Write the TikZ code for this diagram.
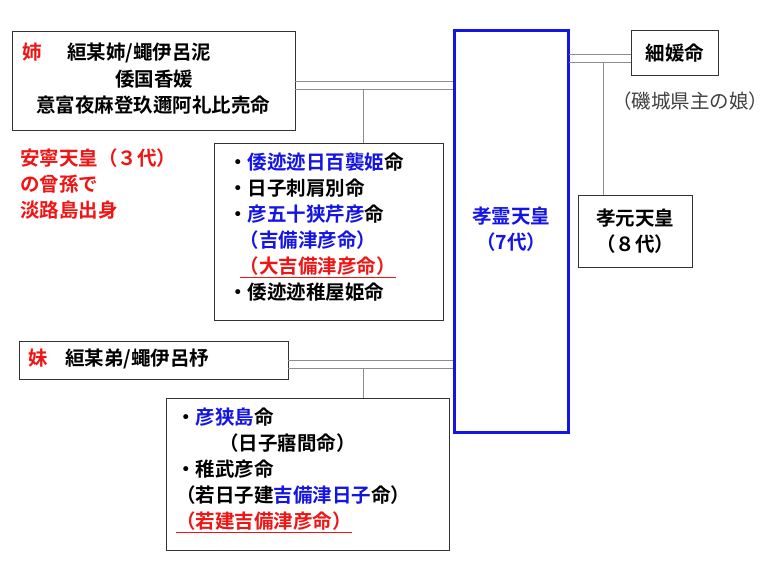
\documentclass[tikz,border=0pt]{standalone}
\usepackage{fontspec}
\setmainfont{Noto Sans CJK JP Bold}
\newfontfamily\jpreg{Noto Sans CJK JP}
\usetikzlibrary{positioning}
\definecolor{jblue}{RGB}{20,20,230}
\definecolor{jred}{RGB}{240,20,20}
\newcommand{\bl}[1]{\textcolor{jblue}{#1}}
\newcommand{\rd}[1]{\textcolor{jred}{#1}}
\tikzset{
  box/.style = {draw=black!80, line width=0.9pt, inner sep=0pt},
  txt/.style = {font=\fontsize{19.5}{26}\selectfont, align=left, inner sep=0pt},
  wire/.style = {draw=black!45, line width=0.8pt},
}
\begin{document}
\begin{tikzpicture}[x=1pt,y=-1pt]
  \useasboundingbox (0,0) rectangle (781,572);
  % boxes
  \draw[box] (12,31) rectangle (295,130);
  \draw[box] (214,143) rectangle (443,320);
  \draw[box] (19,341) rectangle (288,379);
  \draw[box] (166,398) rectangle (449,550);
  \draw[box] (631,30) rectangle (718,75);
  \draw[box] (578,195) rectangle (692,267);
  \draw[draw=jblue, line width=3pt] (454,31) rectangle (568,432);
  % named anchors
  \coordinate (ane) at (295,85);
  \coordinate (imo) at (288,364);
  \coordinate (hoso) at (631,58);
  \coordinate (kL) at (453,0);
  \coordinate (kR) at (569,0);
  % marriages
  \foreach \d in {-4,4} {
    \draw[wire] (ane |- 0,85+\d) -- (kL |- 0,85+\d);
    \draw[wire] (imo |- 0,364+\d) -- (kL |- 0,364+\d);
    \draw[wire] (kR |- 0,58+\d) -- (hoso |- 0,58+\d);
  }
  \draw[wire] (363,89) -- (363,143);
  \draw[wire] (363,368) -- (363,398);
  \draw[wire] (603,62) -- (603,195);
  % texts
  \node[txt, anchor=west] (aneT) at (22,53) {\rd{姉}\hspace{1.3em}絙某姉/蠅伊呂泥};
  \node[txt] (aneT2) at (154,79) {倭国香媛};
  \node[txt] (aneT3) at (153,105) {意富夜麻登玖邇阿礼比売命};
  \node[txt, anchor=north west, text=jred] (note) at (20,149) {安寧天皇（３代）\\の曾孫で\\淡路島出身};
  \node[txt, anchor=north west] (ch1) at (228,153) {・\bl{倭迹迹日百襲姫}命\\・日子刺肩別命\\・\bl{彦五十狭芹彦}命\\\bl{\hspace{0.6em}（吉備津彦命）}\\\rd{\hspace{0.6em}\underline{（大吉備津彦命）}}\\・倭迹迹稚屋姫命};
  \node[txt, anchor=west] (imoT) at (28,359) {\rd{妹}\hspace{0.9em}絙某弟/蠅伊呂杼};
  \node[txt, anchor=north west] (ch2) at (176,408) {・\bl{彦狭島}命\\\hspace{2.2em}（日子寤間命）\\・稚武彦命\\（若日子建\bl{吉備津日子}命）\\\rd{\underline{（若建吉備津彦命）}}};
  \node[txt, text=jblue, align=center] (korei) at (511,229) {孝霊天皇\\（7代）};
  \node[txt] (hosoT) at (675,53) {細媛命};
  \node[txt, font=\fontsize{19.5}{26}\selectfont\jpreg, text=black!75] (hosoN) at (690,101) {（磯城県主の娘）};
  \node[txt, align=center] (kogen) at (635,231) {孝元天皇\\（８代）};
\end{tikzpicture}
\end{document}
